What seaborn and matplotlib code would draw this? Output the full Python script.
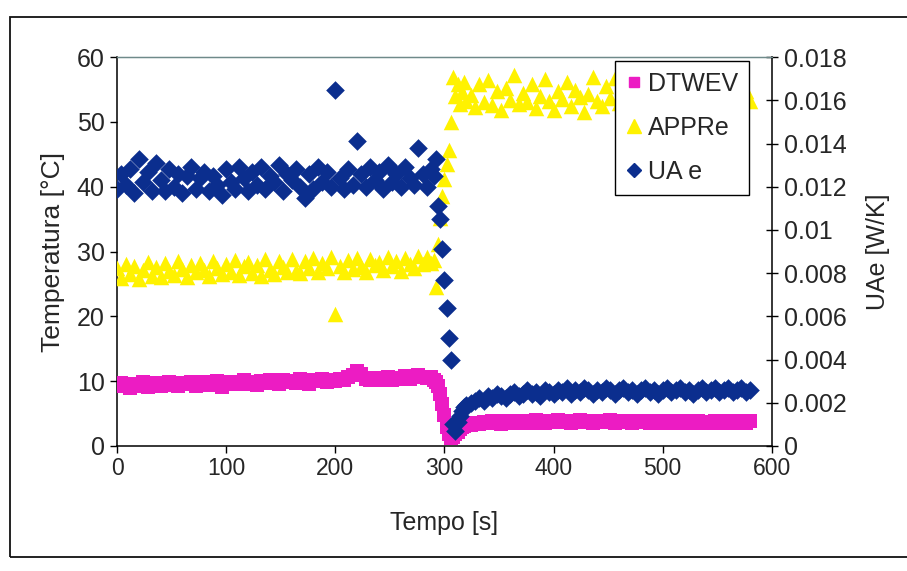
import matplotlib
matplotlib.use("Agg")
import matplotlib.pyplot as plt
from matplotlib.lines import Line2D
from matplotlib.patches import Rectangle
from matplotlib.ticker import FuncFormatter
import pandas as pd
import seaborn as sns

# Sampling instants [s]: 4 s steps, 2 s steps through the step change at ~300 s
time_s = list(range(0, 289, 4)) + list(range(290, 321, 2)) + list(range(324, 581, 4))

# Evaporator water temperature difference [°C]
dtwev = [
    9.2, 9.7, 9.4, 9.0, 9.6, 9.3, 9.8, 9.1, 9.5, 9.7,
    9.3, 9.6, 9.9, 9.4, 9.2, 9.7, 9.5, 9.9, 9.3, 9.6,
    9.8, 9.4, 9.7, 10.0, 9.1, 9.6, 9.9, 9.5, 9.8, 10.1,
    9.6, 9.9, 9.4, 10.0, 9.7, 10.2, 9.8, 9.5, 10.1, 9.9,
    10.0, 9.7, 10.3, 9.9, 9.5, 10.1, 10.0, 10.4, 9.8, 10.2,
    10.0, 10.3, 10.1, 10.6, 11.0, 11.5, 11.1, 10.4, 10.2, 10.5,
    10.1, 10.4, 10.7, 10.2, 10.5, 10.3, 10.8, 10.4, 10.6, 11.0,
    10.7, 10.5, 10.6,
    10.2, 9.8, 9.2, 8.0, 6.5, 4.8, 3.0, 1.8, 1.3, 1.4, 1.8, 2.2, 2.6, 2.9, 3.1, 3.3,
    3.3, 3.5, 3.4, 3.7, 3.5, 3.8, 3.6, 3.4, 3.8, 3.6,
    3.9, 3.7, 3.5, 3.9, 3.6, 4.0, 3.8, 3.6, 3.9, 3.7,
    4.0, 3.7, 3.9, 3.6, 3.8, 4.0, 3.7, 3.9, 3.6, 3.8,
    3.9, 3.7, 4.0, 3.6, 3.8, 3.7, 3.9, 3.5, 3.8, 3.7,
    3.9, 3.6, 3.8, 3.5, 3.7, 3.9, 3.6, 3.8, 3.5, 3.7,
    3.9, 3.6, 3.8, 3.5, 3.7, 3.6, 3.9, 3.7, 3.5, 3.8,
    3.6, 3.7, 3.9, 3.6, 3.8,
]

# Evaporator approach [°C]
appre = [
    27.4, 25.9, 28.1, 26.6, 27.8, 25.8, 27.2, 28.4, 26.3, 27.6,
    26.1, 28.2, 27.0, 26.4, 28.5, 27.3, 26.0, 27.9, 26.8, 28.3,
    27.1, 26.2, 28.6, 27.5, 26.5, 28.0, 26.9, 28.7, 26.4, 27.7,
    28.4, 26.7, 27.9, 26.3, 28.8, 27.2, 26.6, 28.5, 27.6, 26.8,
    28.9, 27.0, 26.7, 28.6, 27.4, 29.0, 26.9, 28.2, 27.5, 29.1,
    20.3, 27.8, 26.9, 28.7, 27.3, 29.0, 27.6, 26.8, 28.9, 27.9,
    28.4, 27.1, 29.2, 27.7, 28.6, 27.0, 29.0, 28.1, 27.4, 29.3,
    28.0, 29.1, 28.3,
    28.7, 24.6, 31.2, 35.2, 38.6, 41.2, 43.5, 45.6, 50.0, 57.0, 54.0, 55.8, 52.8, 54.6, 56.2, 53.2,
    54.1, 52.3, 55.8, 53.0, 56.4, 52.6, 54.7, 51.9, 55.2, 53.4,
    57.3, 52.8, 54.5, 53.1, 55.9, 52.2, 54.0, 56.6, 53.3, 51.8,
    54.8, 53.5, 56.1, 52.5, 55.0, 53.8, 51.6, 54.3, 57.0, 53.2,
    52.4, 55.5, 53.7, 56.8, 52.9, 54.4, 51.7, 55.3, 53.6, 52.1,
    54.9, 56.3, 53.0, 52.6, 55.7, 53.9, 51.9, 54.6, 57.1, 53.4,
    52.7, 55.1, 53.8, 56.0, 52.3, 54.2, 53.1, 55.6, 52.8, 54.5,
    53.6, 56.4, 52.9, 54.8, 53.3,
]

# Evaporator conductance UA [W/K]
ua_e = [
    0.0119, 0.0126, 0.0121, 0.0128, 0.0117, 0.0133, 0.0122, 0.0127, 0.0118, 0.0131,
    0.0123, 0.0118, 0.0128, 0.0120, 0.0126, 0.0117, 0.0125, 0.0129, 0.0119, 0.0124,
    0.0127, 0.0118, 0.0125, 0.0121, 0.0116, 0.0128, 0.0122, 0.0119, 0.0129, 0.0124,
    0.0118, 0.0127, 0.0121, 0.0129, 0.0119, 0.0125, 0.0122, 0.0130, 0.0118, 0.0126,
    0.0123, 0.0128, 0.0120, 0.0115, 0.0126, 0.0119, 0.0129, 0.0122, 0.0127, 0.0120,
    0.0165, 0.0124, 0.0119, 0.0128, 0.0121, 0.0141, 0.0126, 0.0120, 0.0129, 0.0123,
    0.0127, 0.0119, 0.0130, 0.0122, 0.0126, 0.0120, 0.0129, 0.0124, 0.0121, 0.0138,
    0.0126, 0.0120, 0.0128,
    0.0125, 0.0133, 0.0111, 0.0105, 0.0091, 0.0077, 0.0064, 0.0050, 0.0040, 0.0010,
    0.0007, 0.0011, 0.0014, 0.0016, 0.0018, 0.0019,
    0.0020, 0.0021, 0.0022, 0.0021, 0.0023, 0.0022, 0.0024, 0.0023, 0.0022, 0.0024,
    0.0025, 0.0023, 0.0024, 0.0026, 0.0024, 0.0025, 0.0023, 0.0026, 0.0025, 0.0024,
    0.0026, 0.0025, 0.0027, 0.0024, 0.0026, 0.0025, 0.0027, 0.0026, 0.0024, 0.0026,
    0.0025, 0.0027, 0.0026, 0.0024, 0.0026, 0.0027, 0.0025, 0.0026, 0.0024, 0.0026,
    0.0027, 0.0025, 0.0026, 0.0024, 0.0026, 0.0027, 0.0025, 0.0026, 0.0027, 0.0025,
    0.0026, 0.0024, 0.0026, 0.0027, 0.0025, 0.0026, 0.0027, 0.0025, 0.0026, 0.0027,
    0.0025, 0.0026, 0.0027, 0.0025, 0.0026,
]

x_ticks = [0, 100, 200, 300, 400, 500, 600]
left_ticks = [0, 10, 20, 30, 40, 50, 60]
right_ticks = [0, 0.002, 0.004, 0.006, 0.008, 0.01, 0.012, 0.014, 0.016, 0.018]

assert len(time_s) == len(dtwev) == len(appre) == len(ua_e)

df = pd.DataFrame({"Tempo": time_s, "DTWEV": dtwev, "APPRe": appre, "UA e": ua_e})

MAGENTA = "#EC1CC3"
YELLOW = "#FFF200"
NAVY = "#0B2E8E"

sns.set_style("white")
plt.rcParams["font.family"] = ["Liberation Sans", "DejaVu Sans"]

fig = plt.figure(figsize=(9.07, 5.71), dpi=100)
fig.patch.set_facecolor("white")

# chart-area frame
fig.patches.append(Rectangle((0.011, 0.0245), 1.2, 0.9455, transform=fig.transFigure,
                             fill=False, lw=1.3, ec="#111111"))

ax = fig.add_axes([0.129, 0.219, 0.722, 0.681])
ax2 = ax.twinx()

sns.scatterplot(data=df, x="Tempo", y="DTWEV", marker="s", s=88, color=MAGENTA,
                linewidth=0, ax=ax, legend=False, zorder=3)
sns.scatterplot(data=df, x="Tempo", y="APPRe", marker="^", s=125, color=YELLOW,
                linewidth=0, ax=ax, legend=False, zorder=4)
sns.scatterplot(data=df, x="Tempo", y="UA e", marker="D", s=90, color=NAVY,
                linewidth=0, ax=ax2, legend=False, zorder=5)

ax.set_xlim(0, 600)
ax.set_ylim(0, 60)
ax2.set_ylim(0, 0.018)
ax.set_xticks(x_ticks)
ax.set_yticks(left_ticks)
ax2.set_yticks(right_ticks)
ax2.yaxis.set_major_formatter(FuncFormatter(lambda v, p: "%g" % round(v, 4)))

ax.set_xlabel("Tempo [s]", fontsize=18, labelpad=22)
ax.set_ylabel("Temperatura [°C]", fontsize=19, labelpad=8)
ax2.set_ylabel("UAe [W/K]", fontsize=18, labelpad=14)

ax.tick_params(axis="x", which="major", direction="out", length=5, width=1,
               labelsize=16.5, color="black", pad=3, bottom=True)
ax.tick_params(axis="y", which="major", direction="out", length=5, width=1,
               labelsize=18, color="black", pad=4, left=True)
ax2.tick_params(axis="y", direction="inout", length=9, width=1, labelsize=18,
                color="black", pad=4, right=True)

for sp in ("left", "bottom"):
    ax.spines[sp].set_color("black")
    ax.spines[sp].set_linewidth(1.1)
ax.spines["top"].set_color("#6f8a8a")
ax.spines["top"].set_linewidth(1.0)
ax.spines["right"].set_visible(False)
ax2.spines["right"].set_color("black")
ax2.spines["right"].set_linewidth(1.1)
ax2.spines["top"].set_color("#6f8a8a")
ax2.spines["left"].set_visible(False)
ax2.spines["bottom"].set_visible(False)

handles = [
    Line2D([], [], marker="s", linestyle="", color=MAGENTA, markersize=7),
    Line2D([], [], marker="^", linestyle="", color=YELLOW, markersize=10),
    Line2D([], [], marker="D", linestyle="", color=NAVY, markersize=7),
]
leg = ax2.legend(handles, ["DTWEV", "APPRe", "UA e"], loc="upper right",
                 bbox_to_anchor=(0.965, 0.99), fontsize=18, frameon=True,
                 fancybox=False, edgecolor="black", framealpha=1,
                 handlelength=0.6, handletextpad=0.25, labelspacing=0.8,
                 borderpad=0.45, borderaxespad=0)
leg.get_frame().set_linewidth(1.0)

fig.savefig("out.png", dpi=100, facecolor="white")
